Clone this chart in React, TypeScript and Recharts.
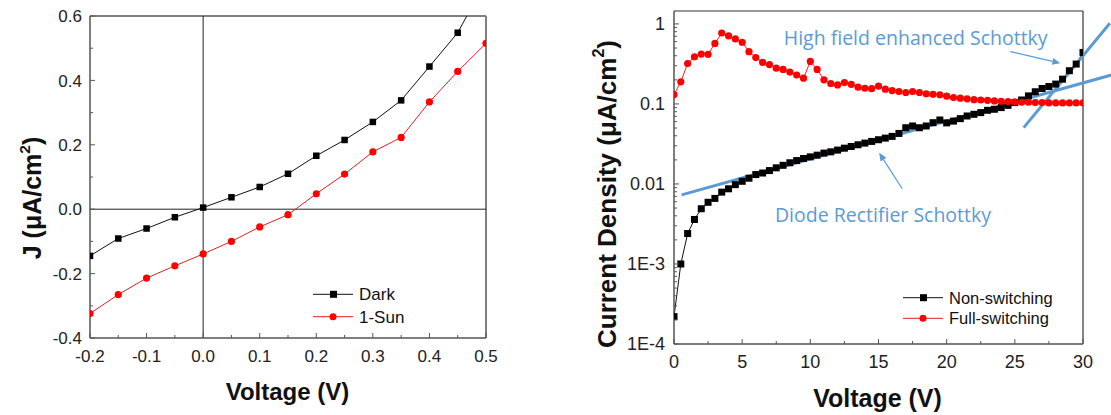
import React from "react";
import { LineChart, Line, XAxis, YAxis, ReferenceLine } from "recharts";

const FONT = '"Liberation Sans", Arial, Helvetica, sans-serif';
const NOTE_FONT = '"Open Sans", "Noto Sans", sans-serif';
const NOTE_BLUE = "#5b9bd5";

// ---- left panel: J-V under dark / 1-sun ----
const jvVoltage = [-0.2, -0.15, -0.1, -0.05, 0, 0.05, 0.1, 0.15, 0.2, 0.25, 0.3, 0.35, 0.4, 0.45, 0.5];
const jvDark = [-0.145, -0.091, -0.06, -0.025, 0.005, 0.037, 0.069, 0.11, 0.166, 0.215, 0.271, 0.338, 0.443, 0.548, 0.71];
const jvSun = [-0.324, -0.265, -0.214, -0.176, -0.139, -0.1, -0.055, -0.017, 0.048, 0.109, 0.178, 0.223, 0.333, 0.428, 0.515];
const jvNames = ["Dark", "1-Sun"];
const jvXTicks = [-0.2, -0.1, 0, 0.1, 0.2, 0.3, 0.4, 0.5];
const jvXMinor = [-0.15, -0.05, 0.05, 0.15, 0.25, 0.35, 0.45];
const jvYTicks = [-0.4, -0.2, 0, 0.2, 0.4, 0.6];
const jvYMinor = [-0.3, -0.1, 0.1, 0.3, 0.5];

// ---- right panel: log J-V ----
const swVoltage = [
  0, 0.5, 1, 1.5, 2, 2.5, 3, 3.5, 4, 4.5, 5, 5.5, 6, 6.5, 7, 7.5, 8, 8.5, 9, 9.5,
  10, 10.5, 11, 11.5, 12, 12.5, 13, 13.5, 14, 14.5, 15, 15.5, 16, 16.5, 17, 17.5, 18, 18.5, 19, 19.5,
  20, 20.5, 21, 21.5, 22, 22.5, 23, 23.5, 24, 24.5, 25, 25.5, 26, 26.5, 27, 27.5, 28, 28.5, 29, 29.5, 30,
];
const nonSwitching = [
  0.00022, 0.001, 0.0024, 0.0036, 0.0049, 0.0059, 0.0066, 0.0079, 0.0087, 0.0098,
  0.0108, 0.0118, 0.0131, 0.0137, 0.0147, 0.0159, 0.0171, 0.0184, 0.0196, 0.0208,
  0.0218, 0.0229, 0.0243, 0.0252, 0.0265, 0.028, 0.0294, 0.0309, 0.0324, 0.034,
  0.0357, 0.0374, 0.0393, 0.0428, 0.0504, 0.053, 0.0504, 0.053, 0.0583, 0.063,
  0.058, 0.061, 0.0655, 0.0707, 0.0742, 0.0779, 0.0833, 0.0858, 0.09, 0.096,
  0.104, 0.112, 0.126, 0.142, 0.156, 0.165, 0.177, 0.204, 0.26, 0.315, 0.44,
];
const fullSwitching = [
  0.131, 0.189, 0.32, 0.389, 0.42, 0.417, 0.57, 0.77, 0.71, 0.65,
  0.59, 0.45, 0.38, 0.33, 0.31, 0.28, 0.27, 0.25, 0.23, 0.21,
  0.34, 0.27, 0.2, 0.18, 0.173, 0.185, 0.176, 0.162, 0.157, 0.155,
  0.167, 0.153, 0.147, 0.143, 0.139, 0.143, 0.139, 0.134, 0.132, 0.13,
  0.125, 0.12, 0.118, 0.116, 0.113, 0.112, 0.111, 0.109, 0.108, 0.107,
  0.106, 0.105, 0.105, 0.104, 0.104, 0.103, 0.103, 0.103, 0.103, 0.103, 0.103,
];
const swNames = ["Non-switching", "Full-switching"];
const swXTicks = [0, 5, 10, 15, 20, 25, 30];
const swXMinor = [2.5, 7.5, 12.5, 17.5, 22.5, 27.5];
const swYTicks = [1e-4, 1e-3, 0.01, 0.1, 1];
const swYLabels = ["1E-4", "1E-3", "0.01", "0.1", "1"];
const swYMinor = [1e-4, 1e-3, 0.01, 0.1].flatMap((d) => [2, 3, 4, 5, 6, 7, 8, 9].map((m) => m * d));

// fitted lines and arrows drawn on the right panel (data coordinates)
const diodeFit = [{ x: 0.56, y: 0.0073 }, { x: 32.1, y: 0.23 }];
const highFieldFit = [{ x: 25.65, y: 0.0506 }, { x: 31.97, y: 1.02 }];
const highFieldArrow = [{ x: 24.67, y: 0.45 }, { x: 28.34, y: 0.323 }];
const diodeArrow = [{ x: 16.74, y: 0.0087 }, { x: 15.05, y: 0.0245 }];

const jvData = jvVoltage.map((v, i) => ({ v, dark: jvDark[i], sun: jvSun[i] }));
const swData = swVoltage.map((v, i) => ({ v, non: nonSwitching[i], full: fullSwitching[i] }));

const near = (a: number, b: number) => Math.abs(a - b) < 1e-9 * Math.max(1, Math.abs(b));

function makeBottomTick(majors: number[], fmt: (v: number) => string, fontSize: number) {
  return (p: any) => {
    const v = p.payload.value;
    const major = majors.some((m) => near(m, v));
    return (
      <g key={`bt-${v}`}>
        <line x1={p.x} x2={p.x} y1={p.y} y2={p.y - (major ? 5 : 3)} stroke="#555" strokeWidth={1} />
        {major && (
          <text x={p.x} y={p.y + 24} textAnchor="middle" fontSize={fontSize} fontFamily={FONT} fill="#222">
            {fmt(v)}
          </text>
        )}
      </g>
    );
  };
}

function makeLeftTick(majors: number[], fmt: (v: number) => string, fontSize: number, gap: number) {
  return (p: any) => {
    const v = p.payload.value;
    const major = majors.some((m) => near(m, v));
    return (
      <g key={`lt-${v}`}>
        <line x1={p.x} x2={p.x + (major ? 5 : 3)} y1={p.y} y2={p.y} stroke="#555" strokeWidth={1} />
        {major && (
          <text x={p.x - gap} y={p.y + fontSize * 0.36} textAnchor="end" fontSize={fontSize} fontFamily={FONT} fill="#222">
            {fmt(v)}
          </text>
        )}
      </g>
    );
  };
}

const squareDot = (size: number, color: string) => (p: any) => {
  if (p.cx == null || p.cy == null) return <g key={p.key ?? p.index} />;
  return <rect key={p.key ?? `sq-${p.index}`} x={p.cx - size / 2} y={p.cy - size / 2} width={size} height={size} fill={color} clipPath={p.clipPath} />;
};
const circleDot = (r: number, color: string) => (p: any) => {
  if (p.cx == null || p.cy == null) return <g key={p.key ?? p.index} />;
  return <circle key={p.key ?? `ci-${p.index}`} cx={p.cx} cy={p.cy} r={r} fill={color} clipPath={p.clipPath} />;
};

const arrowShape = (p: any) => {
  const { x1, y1, x2, y2 } = p;
  const ang = Math.atan2(y2 - y1, x2 - x1);
  const L = 8;
  const W = 3.5;
  const bx = x2 - L * Math.cos(ang);
  const by = y2 - L * Math.sin(ang);
  const pts = [
    [x2, y2],
    [bx - W * Math.sin(ang), by + W * Math.cos(ang)],
    [bx + W * Math.sin(ang), by - W * Math.cos(ang)],
  ].map((q) => q.join(",")).join(" ");
  return (
    <g>
      <line x1={x1} y1={y1} x2={bx} y2={by} stroke={NOTE_BLUE} strokeWidth={1.2} />
      <polygon points={pts} fill={NOTE_BLUE} />
    </g>
  );
};

const center = (x: number, y: number): React.CSSProperties => ({
  position: "absolute",
  left: x,
  top: y,
  transform: "translate(-50%, -50%)",
  whiteSpace: "nowrap",
});

function LegendBox({ x, y, gap, names, fontSize }: { x: number; y: number; gap: number; names: string[]; fontSize: number }) {
  return (
    <svg style={{ position: "absolute", left: 0, top: 0, overflow: "visible" }} width={1} height={1}>
      {names.map((n, i) => {
        const cy = y + i * gap;
        const red = i === 1;
        return (
          <g key={n}>
            <line x1={x} x2={x + 40} y1={cy} y2={cy} stroke={red ? "#e02020" : "#111"} strokeWidth={1} />
            {red ? (
              <circle cx={x + 20} cy={cy} r={3.5} fill="#ff0000" />
            ) : (
              <rect x={x + 17} y={cy - 3.5} width={7} height={7} fill="#000" />
            )}
            <text x={x + 46} y={cy + fontSize * 0.36} fontSize={fontSize} fontFamily={FONT} fill="#111">
              {n}
            </text>
          </g>
        );
      })}
    </svg>
  );
}

export default function App() {
  const axisStroke = { stroke: "#555", strokeWidth: 1.5 };
  return (
    <div style={{ position: "absolute", left: 0, top: 0, width: 1111, height: 415, background: "#fff", fontFamily: FONT }}>
      {/* left panel */}
      <div style={{ position: "absolute", left: 0, top: 0 }}>
        <LineChart width={520} height={415} data={jvData} margin={{ top: 16, right: 34, left: 0, bottom: 0 }}>
          <XAxis
            dataKey="v"
            type="number"
            domain={[-0.2, 0.5]}
            allowDataOverflow
            ticks={[...jvXTicks, ...jvXMinor].sort((a, b) => a - b)}
            interval={0}
            height={77}
            tickSize={0}
            tickMargin={0}
            tickLine={false}
            axisLine={axisStroke}
            tick={makeBottomTick(jvXTicks, (v) => v.toFixed(1), 17)}
          />
          <YAxis
            type="number"
            domain={[-0.4, 0.6]}
            allowDataOverflow
            ticks={[...jvYTicks, ...jvYMinor].sort((a, b) => a - b)}
            interval={0}
            width={90}
            tickSize={0}
            tickMargin={0}
            tickLine={false}
            axisLine={axisStroke}
            tick={makeLeftTick(jvYTicks, (v) => v.toFixed(1), 17, 8)}
          />
          <ReferenceLine y={0.6} stroke="#808080" strokeWidth={2} />
          <ReferenceLine x={0.5} stroke="#808080" strokeWidth={2} />
          <ReferenceLine y={0} stroke="#222" strokeWidth={1} />
          <ReferenceLine x={0} stroke="#222" strokeWidth={1} />
          <Line dataKey="dark" name={jvNames[0]} type="linear" stroke="#111" strokeWidth={1} dot={squareDot(6.5, "#000")} isAnimationActive={false} />
          <Line dataKey="sun" name={jvNames[1]} type="linear" stroke="#e02020" strokeWidth={1} dot={circleDot(3.6, "#ff0000")} isAnimationActive={false} />
        </LineChart>
      </div>
      <LegendBox x={313} y={294.3} gap={22.4} names={jvNames} fontSize={17} />
      <div style={{ ...center(287.5, 392), fontSize: 24, fontWeight: 700, color: "#111" }}>Voltage (V)</div>
      <div style={{ ...center(32, 198), transform: "translate(-50%, -50%) rotate(-90deg)", fontSize: 25, fontWeight: 700, color: "#111" }}>
        J (μA/cm<sup style={{ fontSize: "0.62em", verticalAlign: "0.7em", lineHeight: 0 }}>2</sup>)
      </div>

      {/* right panel */}
      <div style={{ position: "absolute", left: 580, top: 0 }}>
        <LineChart width={531} height={415} data={swData} margin={{ top: 11, right: 28, left: 0, bottom: 0 }}>
          <XAxis
            dataKey="v"
            type="number"
            domain={[0, 30]}
            allowDataOverflow
            ticks={[...swXTicks, ...swXMinor].sort((a, b) => a - b)}
            interval={0}
            height={71}
            tickSize={0}
            tickMargin={0}
            tickLine={false}
            axisLine={axisStroke}
            tick={makeBottomTick(swXTicks, (v) => String(v), 18)}
          />
          <YAxis
            type="number"
            scale="log"
            domain={[1e-4, 1.45]}
            allowDataOverflow
            ticks={[...swYTicks, ...swYMinor].sort((a, b) => a - b)}
            interval={0}
            width={94}
            tickSize={0}
            tickMargin={0}
            tickLine={false}
            axisLine={axisStroke}
            tick={makeLeftTick(swYTicks, (v) => swYLabels[swYTicks.findIndex((m) => near(m, v))] ?? "", 18, 9)}
          />
          <ReferenceLine y={1.45} stroke="#333" strokeWidth={1.2} />
          <ReferenceLine x={30} stroke="#333" strokeWidth={1.2} />
          <Line dataKey="non" name={swNames[0]} type="linear" stroke="#111" strokeWidth={1} dot={squareDot(7, "#000")} isAnimationActive={false} />
          <Line dataKey="full" name={swNames[1]} type="linear" stroke="#ff2020" strokeWidth={1} dot={circleDot(3.6, "#ff0000")} isAnimationActive={false} />
          <ReferenceLine segment={diodeFit} ifOverflow="visible" stroke={NOTE_BLUE} strokeWidth={3} />
          <ReferenceLine segment={highFieldFit} ifOverflow="visible" stroke={NOTE_BLUE} strokeWidth={3} />
          <ReferenceLine segment={highFieldArrow} ifOverflow="visible" shape={arrowShape} />
          <ReferenceLine segment={diodeArrow} ifOverflow="visible" shape={arrowShape} />
        </LineChart>
      </div>
      <LegendBox x={903} y={297.7} gap={20.6} names={swNames} fontSize={16.5} />
      <div style={{ ...center(915.7, 36.7), fontFamily: NOTE_FONT, fontSize: 19.5, color: NOTE_BLUE }}>High field enhanced Schottky</div>
      <div style={{ ...center(883, 213.5), fontFamily: NOTE_FONT, fontSize: 19.5, color: NOTE_BLUE }}>Diode Rectifier Schottky</div>
      <div style={{ ...center(877.5, 398), fontSize: 25, fontWeight: 700, color: "#111" }}>Voltage (V)</div>
      <div style={{ ...center(606.7, 194), transform: "translate(-50%, -50%) rotate(-90deg)", fontSize: 26, fontWeight: 700, color: "#111" }}>
        Current Density (μA/cm<sup style={{ fontSize: "0.62em", verticalAlign: "0.7em", lineHeight: 0 }}>2</sup>)
      </div>
    </div>
  );
}
